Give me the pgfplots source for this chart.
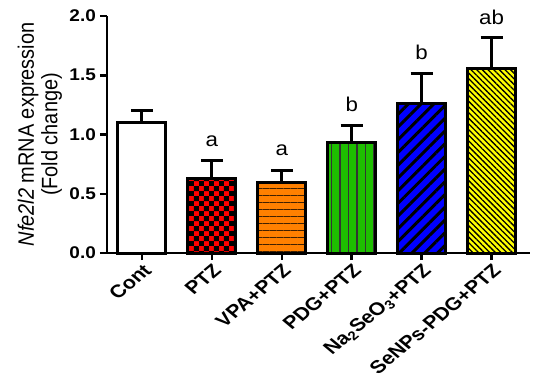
\documentclass[border=0pt]{standalone}
\usepackage{pgfplots}
\pgfplotsset{compat=1.18}
\usepackage{fontspec}
\setmainfont{Liberation Sans}
\usetikzlibrary{patterns,patterns.meta}
\pgfdeclarepatternformonly{bigcheck}{\pgfqpoint{0pt}{0pt}}{\pgfqpoint{10pt}{10pt}}{\pgfqpoint{10pt}{10pt}}{%
 \pgfpathrectangle{\pgfqpoint{0pt}{0pt}}{\pgfqpoint{5pt}{5pt}}%
 \pgfpathrectangle{\pgfqpoint{5pt}{5pt}}{\pgfqpoint{5pt}{5pt}}%
 \pgfusepath{fill}}
\definecolor{cred}{RGB}{255,0,0}
\definecolor{corange}{RGB}{255,128,0}
\definecolor{cgreen}{RGB}{30,190,0}
\definecolor{cblue}{RGB}{0,0,255}
\definecolor{cyellow}{RGB}{255,255,0}
\pgfplotsset{
  mybar/.style={draw=black, line width=3bp, bar shift=0pt,
    error bars/y dir=plus, error bars/y explicit,
    error bars/error bar style={line width=3bp, black},
    error bars/error mark=|,
    error bars/error mark options={line width=3bp, black, mark size=11bp}},
}
\tikzset{sig/.style={font=\fontsize{20}{22}\selectfont, xscale=1.12}}
\begin{document}
\begin{tikzpicture}
\begin{axis}[
  scale only axis, width=423bp, height=237bp,
  ymin=0, ymax=2, xmin=-0.5, xmax=5.55,
  axis lines*=left,
  axis line style={line width=2.5bp, black},
  ybar, bar width=48bp,
  ytick={0,0.5,1,1.5,2},
  /pgf/number format/assume math mode=true,
  yticklabel style={/pgf/number format/fixed, /pgf/number format/fixed zerofill, /pgf/number format/precision=1, font=\fontsize{17}{19}\selectfont\bfseries, inner sep=3.5bp, xscale=1.12},
  xtick={0,1,2,3,4,5},
  xticklabels={Cont, PTZ, VPA+PTZ, PDG+PTZ, Na\textsubscript{2}SeO\textsubscript{3}+PTZ, SeNPs-PDG+PTZ},
  xticklabel style={xscale=1.2, rotate=45, anchor=north east, font=\fontsize{18}{20}\selectfont\bfseries, inner sep=2bp},
  tick style={line width=2.5bp, black},
  major tick length=7bp, tick align=outside,
  ylabel={\textit{Nfe2l2} mRNA expression\\(Fold change)},
  ylabel style={align=center, font=\fontsize{20}{21}\selectfont, inner sep=3bp, yscale=1.12},
  clip=false,
]
\addplot[mybar, fill=white] coordinates {(0,1.10) +- (0,0.10)};
\addplot[mybar, fill=cred, postaction={pattern=bigcheck, pattern color=black}] coordinates {(1,0.63) +- (0,0.15)};
\addplot[mybar, fill=corange, postaction={pattern={Lines[angle=0,distance=7bp,line width=1bp]}, pattern color=black!75!orange}] coordinates {(2,0.595) +- (0,0.10)};
\addplot[mybar, fill=cgreen, postaction={pattern={Lines[angle=90,distance=8.5bp,line width=1.2bp]}, pattern color=black!80}] coordinates {(3,0.93) +- (0,0.15)};
\addplot[mybar, fill=cblue, postaction={pattern={Lines[angle=45,distance=9bp,line width=3bp]}, pattern color=black}] coordinates {(4,1.26) +- (0,0.255)};
\addplot[mybar, fill=cyellow, postaction={pattern={Lines[angle=-45,distance=4bp,line width=1.3bp]}, pattern color=black}] coordinates {(5,1.56) +- (0,0.255)};
\node[sig] at (axis cs:1,0.94) {a};
\node[sig] at (axis cs:2,0.87) {a};
\node[sig] at (axis cs:3,1.25) {b};
\node[sig] at (axis cs:4,1.69) {b};
\node[sig] at (axis cs:5,1.99) {ab};
\end{axis}
\pgfresetboundingbox
\useasboundingbox ([xshift=-107bp,yshift=-132bp]current axis.south west) rectangle ([xshift=20bp,yshift=16bp]current axis.north east);
\end{tikzpicture}
\end{document}
